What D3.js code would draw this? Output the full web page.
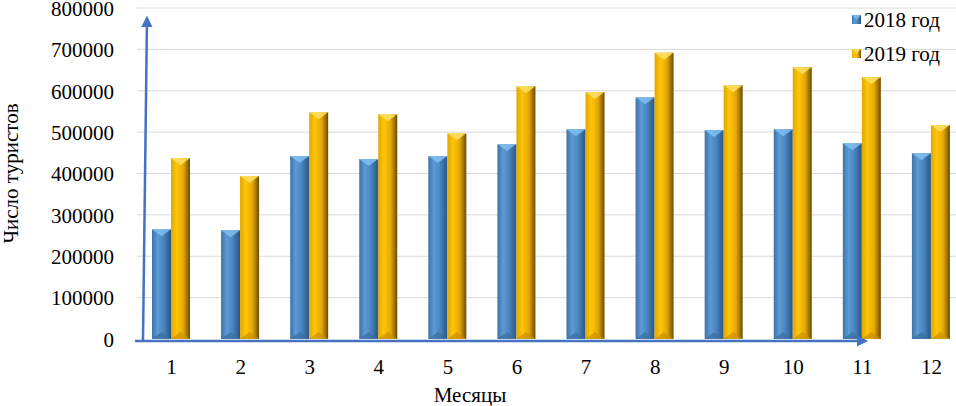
<!DOCTYPE html>
<html>
<head>
<meta charset="utf-8">
<script src="https://cdn.jsdelivr.net/npm/d3@7"></script>
<style>
body { margin: 0; background: #fff; }
text { font-family: "Liberation Serif", "Times New Roman", serif; fill: #000; }
.grid line { stroke: #d9d9d9; stroke-width: 1; }
.axis path, .axis line { display: none; }
</style>
</head>
<body>
<svg class="chartsvg" width="956" height="406"></svg>
<script>
var months = ["1","2","3","4","5","6","7","8","9","10","11","12"];
var series = ["2018 год", "2019 год"];
var tourists2018 = [265000, 263000, 442000, 435000, 442000, 471000, 507000, 584000, 505000, 507000, 473000, 449000];
var tourists2019 = [437000, 394000, 548000, 543000, 497000, 611000, 597000, 692000, 613000, 657000, 633000, 517000];
var yTicks = [0, 100000, 200000, 300000, 400000, 500000, 600000, 700000, 800000];

var margin = {top: 8, right: -10, bottom: 67, left: 137};
var width = 956 - margin.left - margin.right;
var height = 406 - margin.top - margin.bottom;

var svg = d3.select(".chartsvg");
var defs = svg.append("defs");

function addgrad(id, stops)
{
	var g = defs.append("linearGradient").attr("id", id)
		.attr("x1", "0%").attr("x2", "100%").attr("y1", "0%").attr("y2", "0%");
	stops.forEach(function(s) {
		g.append("stop").attr("offset", s[0]).attr("stop-color", s[1]);
	});
}
addgrad("gblue", [["0%", "#3d72a8"], ["30%", "#5c9bd6"], ["60%", "#4a86c0"], ["100%", "#2a5584"]]);
addgrad("gyellow", [["0%", "#e0a800"], ["30%", "#ffc50a"], ["65%", "#e6a800"], ["100%", "#6b4c00"]]);

var colors = {"2018 год": {fill: "url(#gblue)", top: "#7fbff0", bottom: "#3b6d9e"},
              "2019 год": {fill: "url(#gyellow)", top: "#ffe066", bottom: "#c79200"}};

var g = svg.append("g").attr("transform", "translate(" + margin.left + "," + margin.top + ")");

var x = d3.scaleBand().domain(months).range([0, width]);
var xs = d3.scaleBand().domain(series).range([15, 53]);
var y = d3.scaleLinear().domain([0, 800000]).range([height, 0]);

// gridlines
g.append("g").attr("class", "grid")
	.selectAll("line").data(yTicks.slice(1)).enter().append("line")
	.attr("x1", 0).attr("x2", width)
	.attr("y1", function(d) { return y(d); }).attr("y2", function(d) { return y(d); });

// y axis labels
g.append("g").attr("class", "axis")
	.attr("transform", "translate(-20,0)")
	.call(d3.axisLeft(y).tickValues(yTicks).tickSize(0).tickFormat(d3.format("d")))
	.selectAll("text").style("font-size", "21px").attr("dy", "0.35em");

// x axis labels
g.append("g").attr("class", "axis")
	.attr("transform", "translate(0," + (height + 17) + ")")
	.call(d3.axisBottom(x).tickSize(0))
	.selectAll("text").style("font-size", "21px");

var data = [];
months.forEach(function(m, i) {
	data.push({month: m, s: series[0], v: tourists2018[i]});
	data.push({month: m, s: series[1], v: tourists2019[i]});
});

var bars = g.append("g").selectAll("g.bar").data(data).enter().append("g").attr("class", "bar");
var bw = xs.bandwidth();

bars.append("rect")
	.attr("x", function(d) { return x(d.month) + xs(d.s); })
	.attr("y", function(d) { return y(d.v); })
	.attr("width", bw)
	.attr("height", function(d) { return height - y(d.v); })
	.attr("fill", function(d) { return colors[d.s].fill; });

// top bevel
bars.append("path")
	.attr("d", function(d) {
		var x0 = x(d.month) + xs(d.s), y0 = y(d.v);
		return "M" + x0 + "," + y0 + "L" + (x0 + bw) + "," + y0 + "L" + (x0 + bw / 2) + "," + (y0 + 7) + "Z";
	})
	.attr("fill", function(d) { return colors[d.s].top; })
	.attr("opacity", 0.85);

// bottom bevel
bars.append("path")
	.attr("d", function(d) {
		var x0 = x(d.month) + xs(d.s), y0 = height;
		return "M" + x0 + "," + y0 + "L" + (x0 + bw) + "," + y0 + "L" + (x0 + bw / 2) + "," + (y0 - 7) + "Z";
	})
	.attr("fill", function(d) { return colors[d.s].bottom; })
	.attr("opacity", 0.7);

// arrows
defs.append("marker").attr("id", "arrow")
	.attr("viewBox", "0 0 10 10").attr("refX", 8).attr("refY", 5)
	.attr("markerWidth", 4.5).attr("markerHeight", 4.5).attr("orient", "auto")
	.append("path").attr("d", "M0,0L10,5L0,10Z").attr("fill", "#4472c4");

g.append("line")
	.attr("x1", 6).attr("y1", height + 1)
	.attr("x2", 10).attr("y2", 10)
	.attr("stroke", "#4472c4").attr("stroke-width", 2.5)
	.attr("marker-end", "url(#arrow)");
g.append("line")
	.attr("x1", -2).attr("y1", height + 2)
	.attr("x2", x("11") + 38).attr("y2", height + 2)
	.attr("stroke", "#4472c4").attr("stroke-width", 2.5)
	.attr("marker-end", "url(#arrow)");

// axis titles
svg.append("text")
	.attr("transform", "translate(18," + (margin.top + height / 2) + ") rotate(-90)")
	.style("text-anchor", "middle").style("font-size", "21px")
	.text("Число туристов");
svg.append("text")
	.attr("x", 470).attr("y", 402)
	.style("text-anchor", "middle").style("font-size", "21px")
	.text("Месяцы");

// legend
var legend = svg.append("g").attr("class", "legendgroup");
series.forEach(function(s, i) {
	var ly = 20 + i * 34;
	legend.append("rect")
		.attr("x", 852).attr("y", ly - 5).attr("width", 9).attr("height", 9)
		.attr("fill", colors[s].fill);
	legend.append("path")
		.attr("d", "M852," + (ly - 5) + "L861," + (ly - 5) + "L856.5," + ly + "Z")
		.attr("fill", colors[s].top).attr("opacity", 0.8);
	legend.append("text")
		.attr("x", 864).attr("y", ly).attr("dy", "0.35em")
		.style("font-size", "21px")
		.text(s);
});
</script>
</body>
</html>
